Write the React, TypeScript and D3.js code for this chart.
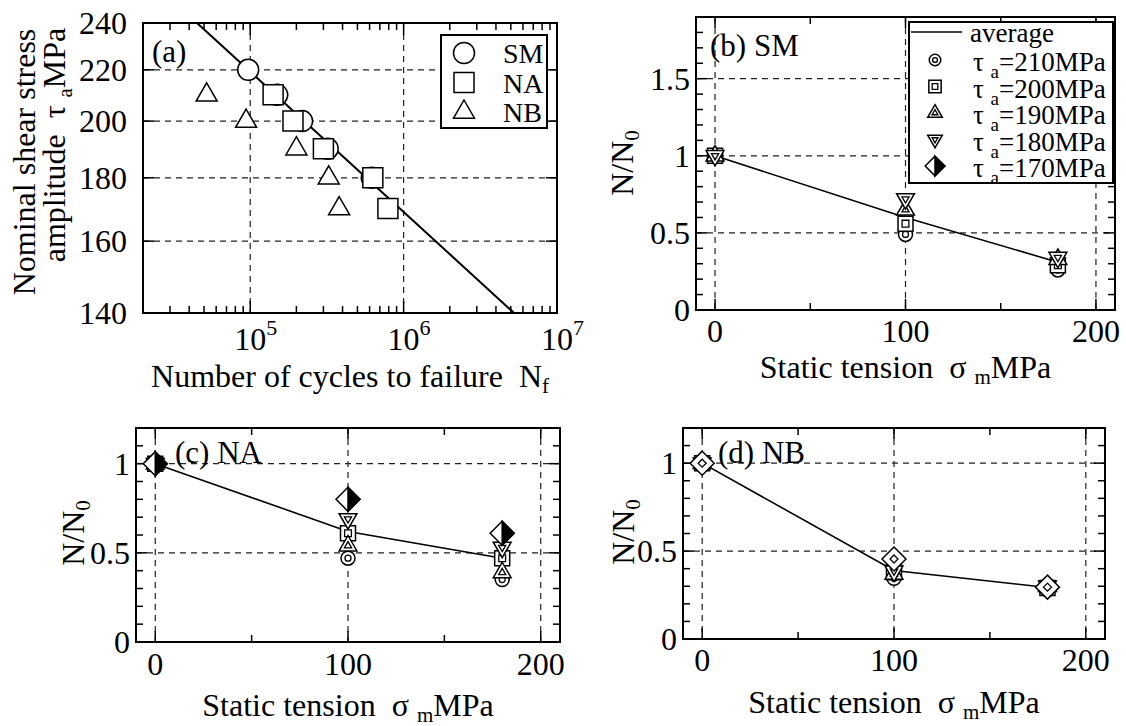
import React from 'react';
import * as d3 from 'd3';

const FONT = "'Liberation Serif', 'DejaVu Serif', serif";

// ---------- Panel (a) data: S-N ----------
const smCycles = [9.7e4, 1.5e5, 2.18e5, 3.2e5, 6.2e5];
const smStress = [220, 210, 200, 190, 180];
const naCycles = [1.41e5, 1.9e5, 3.0e5, 6.3e5, 7.9e5];
const naStress = [210, 200, 190, 180, 170];
const nbCycles = [5.2e4, 9.4e4, 2.0e5, 3.25e5, 3.8e5];
const nbStress = [210, 200, 190, 180, 170];
const fitCycles = [4.5e4, 5.25e6];
const fitStress = [240, 140];
const aYTicks = [140, 160, 180, 200, 220, 240];
const aXMajor = [1e5, 1e6, 1e7];
const aLegend = ['SM', 'NA', 'NB'];

// ---------- Panels (b)-(d) data: N/N0 vs static tension ----------
const sigmaM = [0, 100, 180];
const tauLevels = [210, 200, 190, 180, 170];
const smRatio = [
  [1, 0.49, 0.26],
  [1, 0.56, 0.29],
  [1, 0.65, 0.33],
  [1, 0.72, 0.34],
  null,
];
const smAverage = [1, 0.6, 0.31];
const naRatio = [
  [1, 0.47, 0.35],
  [1, 0.61, 0.47],
  [1, 0.54, 0.39],
  [1, 0.69, 0.53],
  [1, 0.8, 0.61],
];
const naAverage = [1, 0.62, 0.47];
const nbRatio = [
  [1, 0.345, 0.28],
  [1, 0.38, 0.29],
  [1, 0.37, 0.3],
  [1, 0.385, 0.3],
  [1, 0.455, 0.295],
];
const nbAverage = [1, 0.39, 0.293];
const xTicksRatio = [0, 100, 200];
const xMinorRatio = [50, 150];

const kinds = ['circle', 'square', 'tri', 'itri', 'diamond'];

type Box = { l: number; r: number; t: number; b: number };

function T(props: any) {
  return <text fontFamily={FONT} {...props} />;
}

function shapePath(kind: string, x: number, y: number, s: number): string {
  if (kind === 'circle') {
    return `M${x + s},${y} A${s},${s} 0 1,1 ${x - s},${y} A${s},${s} 0 1,1 ${x + s},${y} Z`;
  }
  if (kind === 'square') {
    return `M${x - s},${y - s} L${x + s},${y - s} L${x + s},${y + s} L${x - s},${y + s} Z`;
  }
  if (kind === 'tri') {
    return `M${x},${y - s * 1.2} L${x + s * 1.05},${y + s * 0.62} L${x - s * 1.05},${y + s * 0.62} Z`;
  }
  if (kind === 'itri') {
    return `M${x},${y + s * 1.2} L${x + s * 1.05},${y - s * 0.62} L${x - s * 1.05},${y - s * 0.62} Z`;
  }
  return `M${x},${y - s} L${x + s},${y} L${x},${y + s} L${x - s},${y} Z`;
}

function Marker({ kind, x, y, variant, k = 1 }: { kind: string; x: number; y: number; variant: string; k?: number }) {
  if (variant === 'single') {
    const s = kind === 'circle' ? 10.5 : 10;
    return <path d={shapePath(kind, x, y, s * k)} fill="white" stroke="black" strokeWidth={1.5} />;
  }
  const outer = (kind === 'circle' ? 7 : kind === 'square' ? 7.5 : kind === 'diamond' ? 12 : 8.5) * k;
  const inner = (kind === 'diamond' ? 4 : kind === 'circle' ? 3 : 3.4) * k;
  if (kind === 'diamond' && variant === 'half') {
    return (
      <g>
        <path d={shapePath('diamond', x, y, outer)} fill="white" stroke="black" strokeWidth={1.5} />
        <path d={`M${x},${y - outer} L${x + outer},${y} L${x},${y + outer} Z`} fill="black" stroke="black" strokeWidth={1.5} />
      </g>
    );
  }
  return (
    <g>
      <path d={shapePath(kind, x, y, outer)} fill="white" stroke="black" strokeWidth={1.5} />
      <path d={shapePath(kind, x, y, inner)} fill="none" stroke="black" strokeWidth={1.3} />
    </g>
  );
}

function Frame({ box }: { box: Box }) {
  return <rect x={box.l} y={box.t} width={box.r - box.l} height={box.b - box.t} fill="none" stroke="black" strokeWidth={2} />;
}

const gridStyle = { stroke: '#222', strokeWidth: 1.2, strokeDasharray: '6,5', fill: 'none' };

function PanelA() {
  const box: Box = { l: 143, r: 557, t: 23, b: 313 };
  const x = d3.scaleLog().domain([2e4, 1e7]).range([box.l, box.r]);
  const y = d3.scaleLog().domain([140, 240]).range([box.b, box.t]);
  const minors: number[] = [];
  for (let e = 4; e <= 6; e++) {
    for (let m = 2; m <= 9; m++) {
      const v = m * Math.pow(10, e);
      if (v > 2e4 && v < 1e7) minors.push(v);
    }
  }
  const line = d3.line<number>().x((_, i) => x(fitCycles[i])).y((_, i) => y(fitStress[i]));
  const sets = [
    { kind: 'circle', c: smCycles, s: smStress },
    { kind: 'square', c: naCycles, s: naStress },
    { kind: 'tri', c: nbCycles, s: nbStress },
  ];
  return (
    <g>
      {aYTicks.filter((v) => v > 140 && v < 240).map((v) => (
        <line key={'gy' + v} x1={box.l} x2={box.r} y1={y(v)} y2={y(v)} style={gridStyle} />
      ))}
      {aXMajor.filter((v) => v < 1e7).map((v) => (
        <line key={'gx' + v} x1={x(v)} x2={x(v)} y1={box.t} y2={box.b} style={gridStyle} />
      ))}
      {minors.map((v) => (
        <g key={'mn' + v}>
          <line x1={x(v)} x2={x(v)} y1={box.b} y2={box.b - 7} stroke="black" strokeWidth={1.5} />
          <line x1={x(v)} x2={x(v)} y1={box.t} y2={box.t + 7} stroke="black" strokeWidth={1.5} />
        </g>
      ))}
      {aXMajor.map((v) => (
        <g key={'mj' + v}>
          <line x1={x(v)} x2={x(v)} y1={box.b} y2={box.b - 12} stroke="black" strokeWidth={1.5} />
          <line x1={x(v)} x2={x(v)} y1={box.t} y2={box.t + 12} stroke="black" strokeWidth={1.5} />
        </g>
      ))}
      {aYTicks.map((v) => (
        <g key={'yt' + v}>
          <line x1={box.l} x2={box.l + 11} y1={y(v)} y2={y(v)} stroke="black" strokeWidth={1.5} />
          <line x1={box.r} x2={box.r - 11} y1={y(v)} y2={y(v)} stroke="black" strokeWidth={1.5} />
        </g>
      ))}
      <path d={line(fitCycles) || ''} fill="none" stroke="black" strokeWidth={2} />
      {sets.map((st) =>
        st.c.map((c, i) => <Marker key={st.kind + i} kind={st.kind} x={x(c)} y={y(st.s[i])} variant="single" />)
      )}
      <Frame box={box} />
      {aYTicks.map((v) => (
        <T key={'yl' + v} x={127} y={y(v) + 11} textAnchor="end" fontSize={32}>
          {v}
        </T>
      ))}
      {aXMajor.map((v, i) => (
        <T key={'xl' + v} x={x(v) - 16} y={350} fontSize={32}>
          10<tspan fontSize={22} dy={-15}>{5 + i}</tspan>
        </T>
      ))}
      <T x={(box.l + box.r) / 2} y={387} textAnchor="middle" fontSize={32} style={{ whiteSpace: 'pre' }}>
        {'Number of cycles to failure  N'}
        <tspan fontSize={21} dy={6}>f</tspan>
      </T>
      <T transform="translate(35,162) rotate(-90)" textAnchor="middle" fontSize={32}>
        Nominal shear stress
      </T>
      <T transform="translate(65,145) rotate(-90)" textAnchor="middle" fontSize={32} style={{ whiteSpace: 'pre' }}>
        {'amplitude  τ '}
        <tspan fontSize={21} dy={7}>a</tspan>
        <tspan dy={-7}>MPa</tspan>
      </T>
      <T x={152} y={62} fontSize={31}>(a)</T>
      <rect x={441} y={35} width={106} height={93} fill="white" stroke="black" strokeWidth={2} />
      {aLegend.map((name, i) => (
        <g key={name}>
          <Marker kind={sets[i].kind} x={464} y={53 + i * 29.5} variant="single" />
          <T x={503} y={53 + i * 29.5 + 10} fontSize={28}>{name}</T>
        </g>
      ))}
    </g>
  );
}

type RatioProps = {
  box: Box;
  yMax: number;
  yMajor: number[];
  data: (number[] | null)[];
  avg: number[];
  label: string;
  labelX: number;
  labelY: number;
  diamondVariant: string;
  tickY: number;
  titleY: number;
  yTitleX: number;
  yTitleY: number;
  legend?: boolean;
};

function RatioPanel(p: RatioProps) {
  const { box } = p;
  const x = d3.scaleLinear().domain([-10, 210]).range([box.l, box.r]);
  const y = d3.scaleLinear().domain([0, p.yMax]).range([box.b, box.t]);
  const minorY = d3.range(1, Math.round(p.yMax * 10)).map((v) => v / 10).filter((v) => Math.abs(v * 2 - Math.round(v * 2)) > 1e-6);
  const line = d3.line<number>().x((_, i) => x(sigmaM[i])).y((d) => y(d));
  return (
    <g>
      {p.yMajor.filter((v) => v > 0).map((v) => (
        <line key={'gy' + v} x1={box.l} x2={box.r} y1={y(v)} y2={y(v)} style={gridStyle} />
      ))}
      {xTicksRatio.map((v) => (
        <line key={'gx' + v} x1={x(v)} x2={x(v)} y1={box.t} y2={box.b} style={gridStyle} />
      ))}
      {minorY.map((v) => (
        <g key={'my' + v}>
          <line x1={box.l} x2={box.l + 7} y1={y(v)} y2={y(v)} stroke="black" strokeWidth={1.5} />
          <line x1={box.r} x2={box.r - 7} y1={y(v)} y2={y(v)} stroke="black" strokeWidth={1.5} />
        </g>
      ))}
      {p.yMajor.map((v) => (
        <g key={'My' + v}>
          <line x1={box.l} x2={box.l + 11} y1={y(v)} y2={y(v)} stroke="black" strokeWidth={1.5} />
          <line x1={box.r} x2={box.r - 11} y1={y(v)} y2={y(v)} stroke="black" strokeWidth={1.5} />
        </g>
      ))}
      {xMinorRatio.map((v) => (
        <g key={'mx' + v}>
          <line x1={x(v)} x2={x(v)} y1={box.b} y2={box.b - 7} stroke="black" strokeWidth={1.5} />
          <line x1={x(v)} x2={x(v)} y1={box.t} y2={box.t + 7} stroke="black" strokeWidth={1.5} />
        </g>
      ))}
      {xTicksRatio.map((v) => (
        <g key={'Mx' + v}>
          <line x1={x(v)} x2={x(v)} y1={box.b} y2={box.b - 11} stroke="black" strokeWidth={1.5} />
          <line x1={x(v)} x2={x(v)} y1={box.t} y2={box.t + 11} stroke="black" strokeWidth={1.5} />
        </g>
      ))}
      <path d={line(p.avg) || ''} fill="none" stroke="black" strokeWidth={1.6} />
      {p.data.map((row, li) =>
        row
          ? row.map((v, i) => (
              <Marker
                key={li + '-' + i}
                kind={kinds[li]}
                x={x(sigmaM[i])}
                y={y(v)}
                variant={kinds[li] === 'diamond' ? p.diamondVariant : 'double'}
              />
            ))
          : null
      )}
      <Frame box={box} />
      {p.yMajor.map((v) => (
        <T key={'yl' + v} x={box.l - 6} y={y(v) + 11} textAnchor="end" fontSize={32}>
          {String(v)}
        </T>
      ))}
      {xTicksRatio.map((v) => (
        <T key={'xl' + v} x={x(v)} y={p.tickY} textAnchor="middle" fontSize={32}>
          {String(v)}
        </T>
      ))}
      <T x={(box.l + box.r) / 2} y={p.titleY} textAnchor="middle" fontSize={32} style={{ whiteSpace: 'pre' }}>
        {'Static tension  σ '}
        <tspan fontSize={21} dy={6}>m</tspan>
        <tspan dy={-6}>MPa</tspan>
      </T>
      <T transform={`translate(${p.yTitleX},${p.yTitleY}) rotate(-90)`} textAnchor="middle" fontSize={32}>
        N/N<tspan fontSize={21} dy={6}>0</tspan>
      </T>
      <T x={p.labelX} y={p.labelY} fontSize={31} style={{ whiteSpace: 'pre' }}>
        {p.label}
      </T>
      {p.legend ? <LegendB /> : null}
    </g>
  );
}

function LegendB() {
  const lx = 909, ly = 22, lw = 204, lh = 161;
  const rows = tauLevels.map((t, i) => ({ t, cy: 60 + i * 26.5, kind: kinds[i] }));
  return (
    <g>
      <rect x={lx} y={ly} width={lw} height={lh} fill="white" stroke="black" strokeWidth={2} />
      <line x1={911} x2={962} y1={32} y2={32} stroke="black" strokeWidth={1.6} />
      <T x={970} y={42} fontSize={27}>average</T>
      {rows.map((r) => (
        <g key={r.t}>
          <Marker kind={r.kind} x={935} y={r.cy} variant={r.kind === 'diamond' ? 'half' : 'double'} k={0.82} />
          <T x={973} y={r.cy + 11} fontSize={27} style={{ whiteSpace: 'pre' }}>
            {'τ '}
            <tspan fontSize={19} dy={7}>a</tspan>
            <tspan dy={-7}>{`=${r.t}MPa`}</tspan>
          </T>
        </g>
      ))}
    </g>
  );
}

export default function App() {
  return (
    <div style={{ position: 'absolute', left: 0, top: 0 }}>
      <svg width={1126} height={726} viewBox="0 0 1126 726" style={{ display: 'block' }} fontFamily={FONT} fill="black">
        <rect x={0} y={0} width={1126} height={726} fill="white" />
        <PanelA />
        <RatioPanel
          box={{ l: 696, r: 1115, t: 17, b: 310 }}
          yMax={1.9}
          yMajor={[0, 0.5, 1, 1.5]}
          data={smRatio}
          avg={smAverage}
          label="(b) SM"
          labelX={710}
          labelY={56}
          diamondVariant="half"
          tickY={342}
          titleY={378}
          yTitleX={633}
          yTitleY={163}
          legend
        />
        <RatioPanel
          box={{ l: 136, r: 560, t: 428, b: 642 }}
          yMax={1.2}
          yMajor={[0, 0.5, 1]}
          data={naRatio}
          avg={naAverage}
          label="(c) NA"
          labelX={175}
          labelY={463}
          diamondVariant="half"
          tickY={675}
          titleY={716}
          yTitleX={84}
          yTitleY={533}
        />
        <RatioPanel
          box={{ l: 683, r: 1105, t: 428, b: 639 }}
          yMax={1.2}
          yMajor={[0, 0.5, 1]}
          data={nbRatio}
          avg={nbAverage}
          label="(d) NB"
          labelX={718}
          labelY={463}
          diamondVariant="double"
          tickY={671}
          titleY={713}
          yTitleX={634}
          yTitleY={532}
        />
      </svg>
    </div>
  );
}
